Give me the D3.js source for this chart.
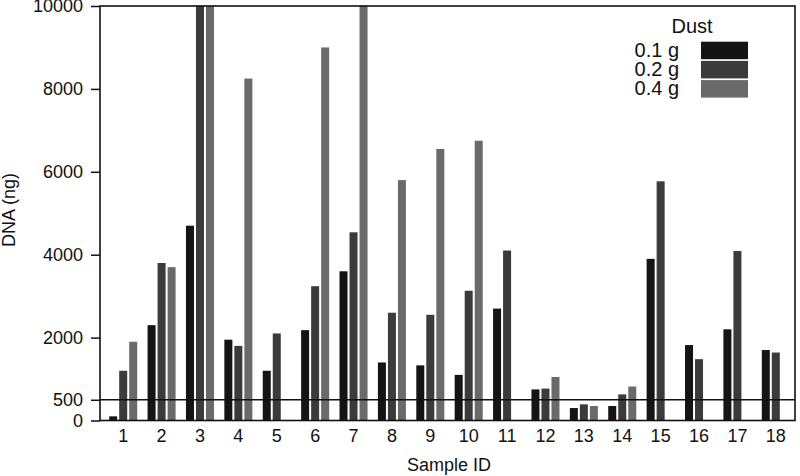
<!DOCTYPE html>
<html>
<head>
<meta charset="utf-8">
<script src="https://cdn.jsdelivr.net/npm/d3@7/dist/d3.min.js"></script>
<style>
  html, body { margin: 0; padding: 0; background: #fff; }
  svg { display: block; font-family: "Liberation Sans", Arial, sans-serif; }
</style>
</head>
<body>
<svg id="chart" width="800" height="476"></svg>
<script>
const categories = ["1","2","3","4","5","6","7","8","9","10","11","12","13","14","15","16","17","18"];
const seriesNames = ["0.1 g", "0.2 g", "0.4 g"];
const dust01 = [100, 2300, 4700, 1950, 1200, 2180, 3600, 1400, 1330, 1100, 2700, 750, 300, 350, 3900, 1820, 2200, 1700];
const dust02 = [1200, 3800, 10000, 1800, 2100, 3240, 4540, 2600, 2550, 3130, 4100, 770, 390, 630, 5770, 1480, 4090, 1640];
const dust04 = [1900, 3700, 10000, 8250, null, 9000, 10000, 5800, 6550, 6750, null, 1050, 350, 820, null, null, null, null];
const yTicks = [0, 500, 2000, 4000, 6000, 8000, 10000];
const refLine = 500;
const legendTitle = "Dust";
const xTitle = "Sample ID";
const yTitle = "DNA (ng)";

const colors = ["#141414", "#3b3b3b", "#6a6a6a"];
const seriesValues = [dust01, dust02, dust04];

const svg = d3.select("#chart");
const L = 100, R = 795, T = 6, B = 420.5;

const x0 = d3.scaleBand().domain(categories).range([104, 795]).paddingInner(0.27).paddingOuter(0.135);
const x1 = d3.scaleBand().domain(seriesNames).range([0, x0.bandwidth()]).paddingInner(0.2).paddingOuter(0);
const y = d3.scaleLinear().domain([0, 10000]).range([B, T]);
const color = d3.scaleOrdinal().domain(seriesNames).range(colors);

const data = [];
categories.forEach((c, i) => {
  seriesNames.forEach((s, j) => {
    const v = seriesValues[j][i];
    if (v != null) data.push({cat: c, series: s, value: v});
  });
});

svg.append("defs").append("clipPath").attr("id", "clip")
  .append("rect").attr("x", L).attr("y", T).attr("width", R - L).attr("height", B - T);

svg.append("g").attr("clip-path", "url(#clip)")
  .selectAll("rect").data(data).join("rect")
  .attr("x", d => x0(d.cat) + x1(d.series))
  .attr("width", x1.bandwidth())
  .attr("y", d => y(d.value))
  .attr("height", d => y(0) - y(d.value))
  .attr("fill", d => color(d.series));

// reference line
svg.append("line")
  .attr("x1", L).attr("x2", R)
  .attr("y1", y(refLine)).attr("y2", y(refLine))
  .attr("stroke", "#111").attr("stroke-width", 1.5);

// y axis
const yAxis = d3.axisLeft(y).tickValues(yTicks).tickSize(9).tickPadding(8).tickFormat(d3.format("d"));
const gy = svg.append("g").attr("transform", `translate(${L},0)`).call(yAxis);
gy.select(".domain").remove();
gy.selectAll(".tick line").attr("stroke", "#111").attr("stroke-width", 1.5);
gy.selectAll(".tick text").attr("font-size", 18).attr("fill", "#111")
  .attr("font-family", "Liberation Sans, Arial, sans-serif");

// x axis
const xAxis = d3.axisBottom(x0).tickSize(0).tickPadding(9);
const gx = svg.append("g").attr("transform", `translate(0,${B})`).call(xAxis);
gx.select(".domain").remove();
gx.selectAll(".tick text").attr("font-size", 18).attr("fill", "#111")
  .attr("font-family", "Liberation Sans, Arial, sans-serif");

// frame
svg.append("rect")
  .attr("x", L).attr("y", T).attr("width", R - L).attr("height", B - T)
  .attr("fill", "none").attr("stroke", "#111").attr("stroke-width", 1.6);

// axis titles
svg.append("text").attr("x", 449).attr("y", 471)
  .attr("text-anchor", "middle").attr("font-size", 18).attr("fill", "#111").text(xTitle);
svg.append("text").attr("transform", "translate(15,210) rotate(-90)")
  .attr("text-anchor", "middle").attr("font-size", 18).attr("fill", "#111").text(yTitle);

// legend
const lg = svg.append("g");
lg.append("text").attr("x", 692).attr("y", 33).attr("text-anchor", "middle")
  .attr("font-size", 20).attr("fill", "#111").text(legendTitle);
seriesNames.forEach((s, j) => {
  const yy = 41.7 + j * 19.2;
  lg.append("rect").attr("x", 701).attr("y", yy).attr("width", 47).attr("height", 17.5)
    .attr("fill", color(s));
  lg.append("text").attr("x", 679).attr("y", yy + 15).attr("text-anchor", "end")
    .attr("font-size", 20).attr("fill", "#111").text(s);
});
</script>
</body>
</html>
